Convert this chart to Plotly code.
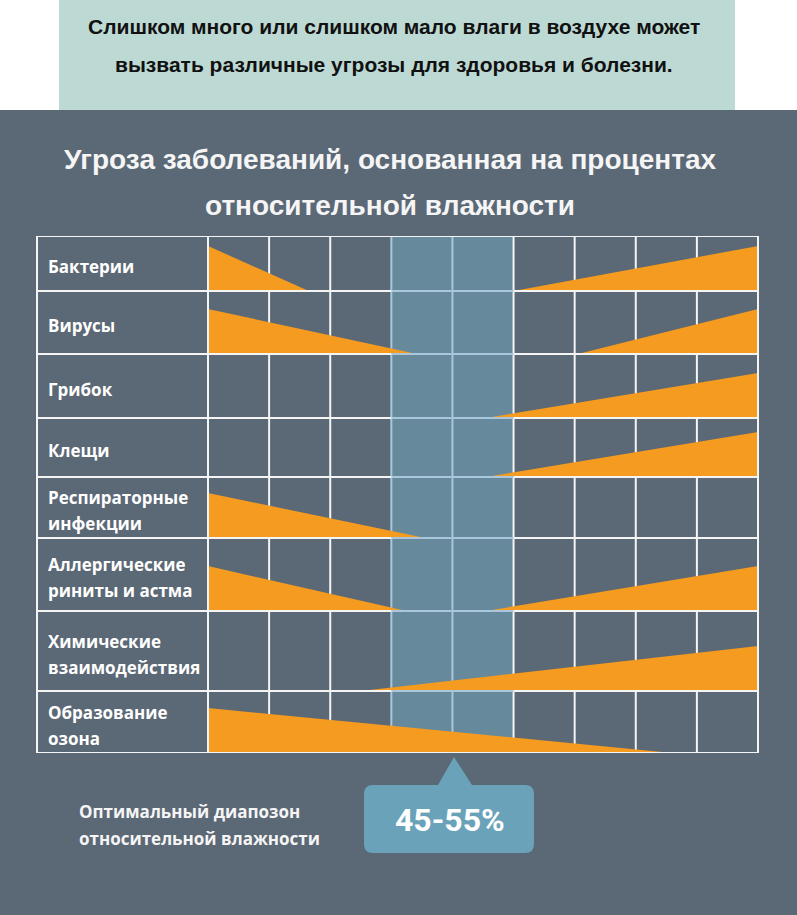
import plotly.graph_objects as go

# ---------------- data ----------------
categories = [
    "Бактерии",
    "Вирусы",
    "Грибок",
    "Клещи",
    "Респираторные<br>инфекции",
    "Аллергические<br>риниты и астма",
    "Химические<br>взаимодействия",
    "Образование<br>озона",
]
# humidity (%) where the low-humidity risk fades to zero (None = no risk)
low_end = [26.5, 44.2, None, None, 45.6, 42.5, None, 86.0]
# humidity (%) where the high-humidity risk starts (None = no risk)
high_start = [60.0, 70.5, 55.5, 55.5, None, 55.5, 35.0, None]
peak_intensity = [1.0, 1.0, 1.0, 1.0, 1.0, 1.0, 1.0, 1.0]
humidity_ticks = [10, 20, 30, 40, 50, 60, 70, 80, 90, 100]
optimal_zone = (40, 60)

top_text = ["Слишком много или слишком мало влаги в воздухе может",
            "вызвать различные угрозы для здоровья и болезни."]
title_lines = ["Угроза заболеваний, основанная на процентах",
               "относительной влажности"]
note_lines = ["Оптимальный диапозон", "относительной влажности"]
callout_text = "45-55%"

# ---------------- layout constants ----------------
W, H = 797, 915
GX0, GX1, GY0, GY1, LX0 = 208, 758, 236, 753, 37
ROW_EDGES = [0, 55, 118, 182, 241, 302, 375, 455, 517]  # px below grid top
TRI_H = 45

BG = "#5b6875"
TEAL = "#bdd9d4"
ORANGE = "#f49b20"
ZONE = "#66899c"
ZONE_LINE = "#a9c7dc"
GRID = "#f4f4f4"
CALLOUT = "#6aa2ba"


def px(x):
    return x / W


def py(y):
    return 1 - y / H


fig = go.Figure()

# triangles
for i, cat in enumerate(categories):
    bottom = ROW_EDGES[i + 1]
    h = TRI_H * peak_intensity[i]
    if low_end[i] is not None:
        fig.add_trace(go.Scatter(
            x=[humidity_ticks[0], humidity_ticks[0], low_end[i], humidity_ticks[0]],
            y=[bottom, bottom - h, bottom, bottom],
            fill="toself", fillcolor=ORANGE, mode="lines", line=dict(width=0),
            hoverinfo="skip", showlegend=False))
    if high_start[i] is not None:
        fig.add_trace(go.Scatter(
            x=[high_start[i], humidity_ticks[-1], humidity_ticks[-1], high_start[i]],
            y=[bottom, bottom - h, bottom, bottom],
            fill="toself", fillcolor=ORANGE, mode="lines", line=dict(width=0),
            hoverinfo="skip", showlegend=False))

shapes = []
# backgrounds
shapes.append(dict(type="rect", xref="paper", yref="paper", x0=0, x1=1, y0=0, y1=py(110),
                   fillcolor=BG, line=dict(width=0), layer="below"))
shapes.append(dict(type="rect", xref="paper", yref="paper", x0=px(59), x1=px(735), y0=py(110), y1=1,
                   fillcolor=TEAL, line=dict(width=0), layer="below"))
# optimal zone
shapes.append(dict(type="rect", xref="x", yref="y", x0=optimal_zone[0], x1=optimal_zone[1],
                   y0=ROW_EDGES[0], y1=ROW_EDGES[-1], fillcolor=ZONE, line=dict(width=0), layer="below"))
# inner vertical lines (below triangles)
for t in humidity_ticks[1:-1]:
    col = ZONE_LINE if optimal_zone[0] <= t < optimal_zone[1] else GRID
    shapes.append(dict(type="line", xref="x", yref="y", x0=t, x1=t, y0=ROW_EDGES[0], y1=ROW_EDGES[-1],
                       line=dict(color=col, width=2), layer="below"))
# horizontal lines (above triangles)
for k, e in enumerate(ROW_EDGES):
    shapes.append(dict(type="line", xref="paper", yref="y", x0=px(LX0), x1=px(GX1), y0=e, y1=e,
                       line=dict(color=GRID, width=2), layer="above"))
    if 0 < k < len(ROW_EDGES) - 1:
        shapes.append(dict(type="line", xref="x", yref="y", x0=optimal_zone[0], x1=optimal_zone[1],
                           y0=e, y1=e, line=dict(color=ZONE_LINE, width=2), layer="above"))
# border verticals
for xv in (LX0, GX0, GX1):
    shapes.append(dict(type="line", xref="paper", yref="y", x0=px(xv), x1=px(xv),
                       y0=ROW_EDGES[0], y1=ROW_EDGES[-1], line=dict(color=GRID, width=2), layer="above"))

# callout bubble
bx0, bx1, by0, by1, r = 364, 534, 785, 853, 9


def P(x, y):
    return f"{px(x):.5f},{py(y):.5f}"


path = (f"M {P(bx0 + r, by0)} L {P(438, by0)} L {P(454, 757)} L {P(472, by0)} "
        f"L {P(bx1 - r, by0)} Q {P(bx1, by0)} {P(bx1, by0 + r)} "
        f"L {P(bx1, by1 - r)} Q {P(bx1, by1)} {P(bx1 - r, by1)} "
        f"L {P(bx0 + r, by1)} Q {P(bx0, by1)} {P(bx0, by1 - r)} "
        f"L {P(bx0, by0 + r)} Q {P(bx0, by0)} {P(bx0 + r, by0)} Z")
shapes.append(dict(type="path", xref="paper", yref="paper", path=path,
                   fillcolor=CALLOUT, line=dict(width=0), layer="above"))

annotations = []
LABEL_FONT = dict(family="Open Sans", size=17, color="white", weight="bold")
for i, cat in enumerate(categories):
    mid = (ROW_EDGES[i] + ROW_EDGES[i + 1]) / 2 + 3
    lines = cat.split("<br>")
    n = len(lines)
    for j, ln in enumerate(lines):
        yy = mid + (j - (n - 1) / 2) * 26
        annotations.append(dict(xref="paper", yref="y", x=px(46), y=yy, text=ln, showarrow=False,
                                xanchor="left", yanchor="middle", font=LABEL_FONT))

TOP_FONT = dict(family="Liberation Sans", size=21, color="#111111", weight="bold")
for j, (ln, yy) in enumerate(zip(top_text, [27, 65])):
    annotations.append(dict(xref="paper", yref="paper", x=px(394), y=py(yy), text=ln, showarrow=False,
                            xanchor="center", yanchor="middle", font=TOP_FONT))
TITLE_FONT = dict(family="Liberation Sans", size=28, color="#f5f5f5", weight="bold")
for j, (ln, yy) in enumerate(zip(title_lines, [160, 205])):
    annotations.append(dict(xref="paper", yref="paper", x=px(390), y=py(yy), text=ln, showarrow=False,
                            xanchor="center", yanchor="middle", font=TITLE_FONT))
NOTE_FONT = dict(family="Open Sans", size=17, color="#f5f5f5", weight="bold")
for j, (ln, yy) in enumerate(zip(note_lines, [811, 838])):
    annotations.append(dict(xref="paper", yref="paper", x=px(77), y=py(yy), text=ln, showarrow=False,
                            xanchor="left", yanchor="middle", font=NOTE_FONT))
annotations.append(dict(xref="paper", yref="paper", x=px(450), y=py(820), text=callout_text,
                        showarrow=False, xanchor="center", yanchor="middle",
                        font=dict(family="Roboto", size=32, color="white", weight="bold")))

fig.update_layout(
    width=W, height=H, margin=dict(l=0, r=0, t=0, b=0),
    paper_bgcolor="white", plot_bgcolor="rgba(0,0,0,0)",
    xaxis=dict(domain=[px(GX0), px(GX1)], range=[humidity_ticks[0], humidity_ticks[-1]],
               visible=False, fixedrange=True),
    yaxis=dict(domain=[py(GY1), py(GY0)], range=[ROW_EDGES[-1], ROW_EDGES[0]],
               visible=False, fixedrange=True),
    shapes=shapes, annotations=annotations, showlegend=False,
)

fig.write_html("out.html", config={"displayModeBar": False},
               post_script="document.body.style.margin='0';document.body.style.overflow='hidden';")
